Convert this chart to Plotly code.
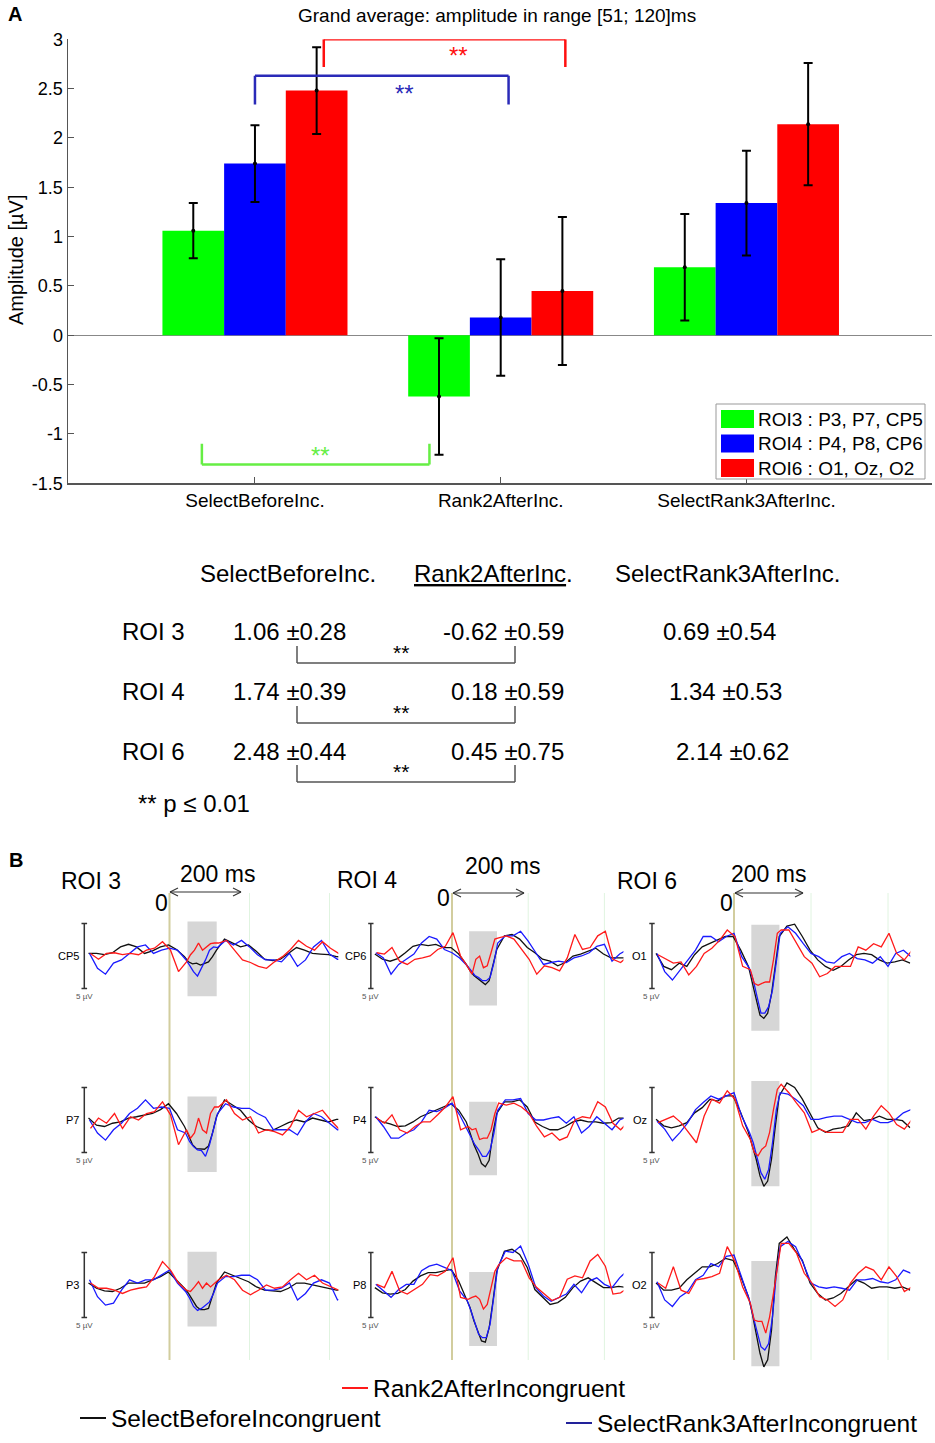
import plotly.graph_objects as go

W, H = 935, 1443
def X(px): return px / W
def Y(py): return 1 - py / H

FONT = "Liberation Sans, Arial, sans-serif"

# ---------------- Panel A data ----------------
CATS = ["SelectBeforeInc.", "Rank2AfterInc.", "SelectRank3AfterInc."]
ROI_NAMES = ["ROI3 : P3, P7, CP5", "ROI4 : P4, P8, CP6", "ROI6 : O1, Oz, O2"]
ROI3_MEAN = [1.06, -0.62, 0.69]
ROI3_SEM = [0.28, 0.59, 0.54]
ROI4_MEAN = [1.74, 0.18, 1.34]
ROI4_SEM = [0.39, 0.59, 0.53]
ROI6_MEAN = [2.48, 0.45, 2.14]
ROI6_SEM = [0.44, 0.75, 0.62]
YTICKS = [-1.5, -1, -0.5, 0, 0.5, 1, 1.5, 2, 2.5, 3]
YTICK_TEXT = ["-1.5", "-1", "-0.5", "0", "0.5", "1", "1.5", "2", "2.5", "3"]
TABLE_ROWS = ["ROI 3", "ROI 4", "ROI 6"]

# ---------------- Panel B data (ERP waveforms, µV, positive plotted down) ----------------
T = [-200, -180, -160, -140, -120, -100, -80, -60, -40, -20, 0, 20, 40, 50, 60, 70, 80, 90,
     100, 110, 120, 140, 160, 180, 200, 220, 240, 260, 280, 300, 320, 340, 360, 380, 400, 420, 440, 460]
WINDOW_MS = [45, 118]

CP5_black = [-0.2,-0.2,-0.1,-0.25,-0.7,-0.9,-0.7,-0.2,-0.4,-0.7,-0.85,-0.5,0.05,0.45,0.6,0.55,0.7,0.6,0.45,0.05,-0.45,-1.3,-1.0,-0.7,-0.85,-0.35,0.25,0.35,0.25,-0.2,-0.65,-0.45,-0.2,-0.15,-0.1,0.05,0.1,0.1]
CP5_red = [-0.2,0.25,-0.2,-0.25,-0.1,-0.2,-0.1,-0.45,-0.6,-1.1,-0.45,1.2,0.45,-0.1,-0.45,-1.0,-0.45,-0.7,-0.95,-1.0,-1.0,-1.2,-0.45,0.3,0.5,0.8,0.95,0.45,0.05,-0.5,-1.2,-0.75,-0.45,-1.1,-0.6,-0.2,-0.15,-0.2]
CP5_blue = [-0.2,0.95,1.4,0.55,0.3,-0.2,-0.7,-0.85,-0.2,-0.45,-0.6,-0.45,0.25,0.7,1.2,1.55,0.95,0.3,-0.45,-0.7,-0.65,-1.2,-0.85,-1.2,-0.7,-0.1,0.3,0.3,0.45,-0.2,0.8,0.3,-0.7,-1.2,-0.15,0.25,0.3,0.3]

P7_black = [-0.15,0.4,0.5,0.25,0.15,-0.15,-0.25,-0.4,-0.5,-0.8,-1.25,-0.5,0.5,1.15,1.9,2.2,2.25,2.25,2.0,1.0,-0.25,-1.55,-1.15,-0.75,0.0,0.5,0.75,0.8,0.5,0.2,0.0,0.15,-0.15,0.0,0.15,-0.05,0.0,0.0]
P7_red = [0.65,-0.15,0.25,-0.5,0.65,-0.25,0.0,-0.5,-0.65,-1.4,-0.4,1.9,0.75,1.4,1.0,-0.15,0.75,1.0,-0.5,-1.0,-1.0,-1.55,-0.5,0.0,-0.25,1.0,0.75,0.9,1.15,0.5,-0.75,-0.25,-0.5,-0.75,0.0,0.65,0.5,0.5]
P7_blue = [0.0,1.0,1.55,0.75,0.25,-0.5,-0.9,-1.55,-0.9,-1.0,-0.9,0.75,1.0,1.65,2.05,2.3,2.35,2.8,1.9,0.75,-0.5,-1.25,-1.0,-0.9,-0.9,-0.5,-0.2,0.75,0.75,0.75,1.15,0.15,-0.5,-0.25,0.25,0.75,0.75,0.75]

P3_black = [-0.15,0.25,0.45,0.5,0.25,-0.15,-0.15,-0.15,-0.4,-0.65,-1.0,-0.4,0.25,0.65,1.15,1.65,1.9,1.9,1.8,0.9,-0.15,-1.0,-0.75,-0.5,-0.25,0.15,0.4,0.45,0.5,0.25,-0.15,-0.15,0.0,0.15,0.25,0.4,0.4,0.4]
P3_red = [-0.15,0.25,0.25,0.4,0.65,0.4,0.25,0.15,-0.65,-1.8,-1.15,-0.15,0.4,0.5,0.15,-0.25,0.25,-0.15,0.15,-0.15,-0.4,-0.75,-0.4,0.4,0.75,0.4,0.0,0.25,0.15,-0.4,-0.9,-0.4,-0.75,-0.15,0.15,0.4,0.4,0.4]
P3_blue = [-0.4,0.9,1.55,1.4,0.4,-0.4,-0.15,-0.4,-0.4,-0.75,-1.15,-0.15,0.5,1.0,1.65,1.95,1.8,1.55,1.3,0.65,-0.15,-0.65,-0.65,-0.75,-0.75,-0.4,0.4,0.4,0.25,-0.15,1.15,0.65,-0.15,-0.4,-0.15,1.15,0.9,0.9]

CP6_black = [-0.15,0.25,0.4,0.2,-0.25,-0.75,-0.9,-0.8,-0.9,-0.65,-0.65,-0.15,0.65,1.15,1.5,1.75,2.0,2.2,1.9,0.75,-0.5,-1.55,-1.65,-1.3,-0.65,-0.25,0.25,0.4,0.75,0.5,0.0,-0.15,-0.4,-0.6,-0.15,0.15,0.15,0.15]
CP6_red = [-0.25,-0.15,-0.65,0.4,0.65,0.25,0.15,0.0,-0.5,-0.75,-1.8,0.0,0.9,1.4,0.25,0.0,0.9,0.75,-0.25,-1.3,-1.4,-1.55,-1.3,-0.5,0.25,1.4,0.75,0.9,1.15,0.15,-1.65,-0.5,-0.65,-1.55,-1.9,0.25,0.5,0.0]
CP6_blue = [-0.25,0.15,1.4,0.65,0.25,-0.15,-1.0,-1.5,-1.3,-0.5,-0.25,0.15,0.75,1.15,1.5,1.65,1.9,1.9,1.65,0.5,-1.0,-1.55,-1.55,-1.9,-1.15,-0.25,0.65,0.5,0.4,0.5,0.15,0.0,-0.25,-0.75,-0.9,0.4,-0.15,-0.5]

P4_black = [-0.25,0.15,0.3,0.5,0.45,0.15,-0.25,-0.5,-0.75,-1.0,-1.25,-0.75,0.15,1.0,1.9,2.55,3.35,3.6,3.1,1.0,-0.5,-1.4,-1.4,-1.55,-1.0,0.15,0.5,0.75,0.75,0.5,0.15,0.0,0.15,0.15,0.25,0.2,-0.15,-0.15]
P4_red = [-0.15,0.25,-0.4,0.75,1.0,0.5,0.15,0.15,-0.4,-1.0,-1.8,0.75,0.5,0.75,0.65,1.5,1.4,1.4,0.75,-0.5,-1.3,-1.15,-1.3,-1.0,-0.5,0.5,1.3,1.0,1.55,1.3,0.0,-0.25,-0.15,-1.4,-1.0,0.25,0.75,0.15]
P4_blue = [-0.25,0.5,1.4,1.4,1.0,0.75,0.15,-0.75,-0.65,-0.9,-1.3,-0.4,0.75,1.3,1.9,2.3,2.8,2.8,2.3,1.0,-0.75,-1.55,-1.55,-1.65,-0.5,0.0,0.0,-0.15,-0.25,0.25,-0.25,1.0,0.5,-0.25,0.25,0.75,0.0,-0.25]

P8_black = [0.2,0.6,0.7,0.65,0.35,-0.3,-0.7,-0.95,-0.95,-1.1,-1.2,-0.3,1.1,1.75,2.75,3.5,4.3,4.4,3.3,1.25,-1.05,-2.6,-2.75,-2.35,-1.35,0.35,0.95,1.5,1.35,0.95,0.2,-0.3,-0.55,-0.2,0.2,0.2,0.1,0.2]
P8_red = [-0.05,0.2,-1.05,0.45,0.7,0.35,-0.05,-0.8,-0.7,-1.05,-2.1,0.95,1.1,0.95,0.85,1.1,1.85,1.5,0.2,-1.05,-1.55,-2.1,-1.85,-1.85,-0.55,0.2,0.7,1.2,0.95,-0.45,-0.7,-0.55,-1.85,-2.35,-1.45,0.7,0.6,0.2]
P8_blue = [-0.05,0.45,0.95,0.35,-0.05,-0.05,-1.1,-1.45,-1.6,-1.35,-1.1,0.45,1.2,2.0,3.0,3.8,4.05,4.05,3.0,0.95,-1.35,-2.6,-2.5,-3.0,-1.6,0.2,0.85,1.25,0.95,0.7,-0.05,0.6,-0.3,-0.55,-0.05,0.2,-0.55,-1.1]

O1_black = [-0.2,0.8,1.05,0.55,0.8,-0.1,-0.7,-0.95,-1.2,-1.5,-1.5,-0.45,0.8,2.1,3.4,4.55,4.8,4.4,2.9,0.55,-1.5,-2.3,-2.45,-1.5,-0.45,0.3,0.8,1.1,0.8,0.3,-0.1,-0.2,-0.1,0.3,0.55,0.45,0.3,0.55]
O1_red = [-0.1,0.2,0.55,0.45,1.45,0.8,-0.2,-0.6,-1.2,-2.0,-1.5,0.8,1.05,2.1,2.25,2.1,2.0,2.0,0.3,-1.75,-2.0,-2.0,-0.95,0.05,0.55,1.6,1.35,0.8,0.8,0.8,-0.7,-0.45,-0.95,-0.7,-1.75,-0.2,0.3,-0.45]
O1_blue = [-0.2,1.2,1.85,1.1,0.3,-0.45,-1.5,-1.5,-1.1,-1.5,-1.75,0.05,0.95,1.85,3.15,4.4,4.4,3.9,2.6,0.3,-1.75,-2.25,-1.75,-0.95,-0.2,0.05,0.45,0.55,0.05,-0.2,0.2,0.3,0.55,0.05,0.8,-0.2,-0.45,0.05]

Oz_black = [-0.05,0.45,0.6,0.45,0.2,-0.55,-0.95,-1.6,-1.45,-1.85,-1.85,-0.55,0.95,2.0,3.0,4.3,5.1,4.7,3.0,0.45,-1.85,-2.85,-2.5,-1.6,-0.55,0.6,0.95,0.7,0.6,0.45,-0.55,0.05,-0.05,-0.3,-0.05,-0.05,0.05,0.6]
Oz_red = [0.2,-0.05,-0.3,0.2,0.95,1.75,-0.3,-1.6,-1.3,-2.25,-1.6,0.45,1.5,2.5,2.75,2.25,2.0,0.95,-0.8,-2.35,-2.75,-2.1,-1.3,-0.55,0.95,0.7,0.95,0.95,0.95,-0.05,-0.05,0.7,-0.3,-1.1,-0.55,0.35,0.7,-0.05]
Oz_blue = [0.1,0.7,1.6,0.95,0.2,-0.8,-1.35,-1.85,-1.6,-1.85,-2.1,-0.3,0.95,1.75,3.0,4.05,4.55,3.8,1.75,-0.8,-2.1,-2.0,-1.6,-1.1,-0.05,-0.05,-0.2,-0.3,-0.3,-0.05,0.2,0.2,-0.05,0.2,0.2,-0.05,-0.55,-0.8]

O2_black = [-0.15,0.4,0.4,0.25,-0.4,-0.9,-1.4,-1.4,-1.65,-2.05,-1.9,-0.65,0.9,2.2,3.7,5.25,6.3,5.75,3.45,-0.65,-3.2,-3.7,-2.7,-1.9,-0.15,0.65,1.15,1.0,0.65,0.15,-0.4,-0.15,0.25,0.15,0.15,0.25,0.15,0.4]
O2_red = [-0.15,0.25,-1.4,0.4,0.65,-0.4,-0.5,-0.65,-0.9,-2.95,-1.8,0.15,1.4,2.7,2.8,2.8,3.7,2.45,0.65,-1.4,-3.2,-3.2,-2.45,-0.9,-0.15,0.9,1.15,1.65,1.15,-0.15,-0.9,-1.4,-1.15,-0.4,-1.4,-0.65,0.5,0.15]
O2_blue = [-0.25,1.15,1.65,0.9,0.5,-0.4,-0.75,-1.65,-1.4,-2.2,-2.3,-0.65,1.15,2.45,3.7,4.75,5.0,4.5,2.45,-0.9,-2.95,-3.35,-2.95,-1.65,-0.15,0.15,0.25,0.15,0.25,0.4,-0.4,-0.4,-0.5,-0.25,-0.15,-0.4,-1.15,-0.9]

CHANNELS = [["CP5", "CP6", "O1"], ["P7", "P4", "Oz"], ["P3", "P8", "O2"]]
ROI_LABELS = ["ROI 3", "ROI 4", "ROI 6"]
WAVES = {
    "CP5": (CP5_black, CP5_blue, CP5_red), "P7": (P7_black, P7_blue, P7_red), "P3": (P3_black, P3_blue, P3_red),
    "CP6": (CP6_black, CP6_blue, CP6_red), "P4": (P4_black, P4_blue, P4_red), "P8": (P8_black, P8_blue, P8_red),
    "O1": (O1_black, O1_blue, O1_red), "Oz": (Oz_black, Oz_blue, Oz_red), "O2": (O2_black, O2_blue, O2_red),
}
BOX_LO = {"CP5": -2.65, "P7": -1.8, "P3": -2.55, "CP6": -1.9, "P4": -1.4, "P8": -1.0, "O1": -2.4, "Oz": -3.0, "O2": -1.85}
BOX_HI = {"CP5": 3.1, "P7": 4.0, "P3": 3.2, "CP6": 3.8, "P4": 4.25, "P8": 4.7, "O1": 5.75, "Oz": 5.1, "O2": 6.25}
SCALE_UV = 5
COND_NAMES = ["SelectBeforeIncongruent", "SelectRank3AfterIncongruent", "Rank2AfterIncongruent"]

for name, w in WAVES.items():
    for arr in w:
        assert len(arr) == len(T), name

fig = go.Figure()
shapes = []
annos = []

def ann(**kw):
    kw.setdefault("showarrow", False)
    kw.setdefault("xanchor", "center")
    kw.setdefault("yanchor", "middle")
    kw.setdefault("xref", "paper")
    kw.setdefault("yref", "paper")
    annos.append(kw)

def pline(a, b, c, d, color, width):
    shapes.append(dict(type="line", xref="paper", yref="paper", x0=X(a), y0=Y(b), x1=X(c), y1=Y(d),
                       line=dict(color=color, width=width)))

# ================= Panel A =================
BAR_COLORS = ["#00ff00", "#0000ff", "#ff0000"]
for nm, mean, sem, col in zip(ROI_NAMES, [ROI3_MEAN, ROI4_MEAN, ROI6_MEAN],
                              [ROI3_SEM, ROI4_SEM, ROI6_SEM], BAR_COLORS):
    fig.add_bar(x=CATS, y=mean, marker=dict(color=col, line=dict(width=0)), offsetgroup=nm,
                error_y=dict(type="data", array=sem, color="black", thickness=2, width=4.5),
                xaxis="x", yaxis="y", showlegend=False, hoverinfo="skip")
    fig.add_scatter(x=CATS, y=mean, mode="markers", marker=dict(color="black", size=4),
                    offsetgroup=nm, xaxis="x", yaxis="y", showlegend=False, hoverinfo="skip")

def bracket(x0, x1, yleg, ybar, color):
    for (a, b, c, d) in [(x0, yleg, x0, ybar), (x0, ybar, x1, ybar), (x1, ybar, x1, yleg)]:
        shapes.append(dict(type="line", xref="x", yref="y", x0=a, y0=b, x1=c, y1=d,
                           line=dict(color=color, width=2.5), layer="above"))

bracket(0.28, 1.263, 2.72, 3.0, "#ff1010")
bracket(0.0, 1.032, 2.34, 2.63, "#2a2ab8")
bracket(-0.216, 0.71, -1.10, -1.31, "#66ee44")
for xs, ys, col in [(0.829, 2.84, "#ff1010"), (0.609, 2.45, "#2a2ab8"), (0.267, -1.22, "#66ee44")]:
    ann(x=xs, y=ys, xref="x", yref="y", text="**", font=dict(family=FONT, size=24, color=col))

# custom legend box
shapes.append(dict(type="rect", xref="paper", yref="paper", x0=X(716), x1=X(925), y0=Y(479), y1=Y(404),
                   line=dict(color="#999999", width=1), fillcolor="white", layer="above"))
for i, (nm, col) in enumerate(zip(ROI_NAMES, BAR_COLORS)):
    yc = 419 + 24.5 * i
    shapes.append(dict(type="rect", xref="paper", yref="paper", x0=X(721), x1=X(754),
                       y0=Y(yc + 9), y1=Y(yc - 9), line=dict(width=0), fillcolor=col, layer="above"))
    ann(x=X(756), y=Y(yc), text=nm, xanchor="left", font=dict(family=FONT, size=19, color="black"))

ann(x=X(497), y=Y(16), text="Grand average: amplitude in range [51; 120]ms",
    font=dict(family=FONT, size=19, color="black"))
ann(x=X(16), y=Y(260), text="Amplitude [µV]", textangle=-90, font=dict(family=FONT, size=20, color="black"))
ann(x=X(15), y=Y(14), text="<b>A</b>", font=dict(family=FONT, size=20, color="black"))
ann(x=X(16), y=Y(860), text="<b>B</b>", font=dict(family=FONT, size=20, color="black"))

# ================= Table =================
TF = dict(family=FONT, size=24, color="black")
HEAD_X = [287.5, 493.5, 727]
for i, c in enumerate(CATS):
    txt = "<u>Rank2AfterInc</u>." if i == 1 else c
    ann(x=X(HEAD_X[i]), y=Y(573), text=txt, font=TF)
ROW_Y = [632, 692, 751]
COLC_X = [719, 725.5, 732.5]
for r, (lab, mean, sem) in enumerate(zip(TABLE_ROWS, [ROI3_MEAN, ROI4_MEAN, ROI6_MEAN],
                                         [ROI3_SEM, ROI4_SEM, ROI6_SEM])):
    yy = Y(ROW_Y[r])
    ann(x=X(120), y=yy, text=lab, xanchor="left", font=TF)
    ann(x=X(231), y=yy, text=f"{mean[0]:.2f} ±{sem[0]:.2f}", xanchor="left", font=TF)
    ann(x=X(566), y=yy, text=f"{mean[1]:.2f} ±{sem[1]:.2f}", xanchor="right", font=TF)
    ann(x=X(COLC_X[r]), y=yy, text=f"{mean[2]:.2f} ±{sem[2]:.2f}", font=TF)
    ytop = ROW_Y[r] + 14
    ybot = ROW_Y[r] + 31
    pline(297, ytop, 297, ybot, "#555555", 1.5)
    pline(297, ybot, 515, ybot, "#555555", 1.5)
    pline(515, ybot, 515, ytop, "#555555", 1.5)
    ann(x=X(401), y=Y(ROW_Y[r] + 20), text="**", font=dict(family=FONT, size=21, color="black"))
ann(x=X(136), y=Y(803), text="** p ≤ 0.01", xanchor="left", font=TF)

# ================= Panel B =================
COL_ZERO = [169.5, 452, 734]
COL_SCALE = [0.4, 0.381, 0.385]
COL_TEND = [422, 450, 458]
ROW_BASE = [956, 1120, 1285]
PX_PER_UV = 13
T_START = -225
YR = (-4.5, 7)
BAR_T = -213
LINE_COLORS = ["#111111", "#1a1aff", "#ff1a1a"]

layout_axes = {}
for r in range(3):
    for c in range(3):
        k = 2 + r * 3 + c
        ch = CHANNELS[r][c]
        xa, ya = f"x{k}", f"y{k}"
        x0 = COL_ZERO[c] + T_START * COL_SCALE[c]
        x1 = COL_ZERO[c] + COL_TEND[c] * COL_SCALE[c]
        ytop = ROW_BASE[r] + YR[0] * PX_PER_UV
        ybot = ROW_BASE[r] + YR[1] * PX_PER_UV
        layout_axes[f"xaxis{k}"] = dict(domain=[X(x0), X(x1)], range=[T_START, COL_TEND[c]],
                                        visible=False, anchor=ya, fixedrange=True, automargin=False)
        layout_axes[f"yaxis{k}"] = dict(domain=[Y(ybot), Y(ytop)], range=[YR[1], YR[0]],
                                        visible=False, anchor=xa, fixedrange=True, automargin=False)
        for wave, col in zip(WAVES[ch], LINE_COLORS):
            fig.add_scatter(x=T, y=wave, mode="lines", line=dict(color=col, width=1.3),
                            xaxis=xa, yaxis=ya, showlegend=False, hoverinfo="skip")
        shapes.append(dict(type="rect", xref=xa, yref=ya, x0=WINDOW_MS[0], x1=WINDOW_MS[1],
                           y0=BOX_LO[ch], y1=BOX_HI[ch], fillcolor="#d6d6d6", line=dict(width=0),
                           layer="below"))
        half = SCALE_UV / 2
        shapes.append(dict(type="line", xref=xa, yref=ya, x0=BAR_T, x1=BAR_T, y0=-half, y1=half,
                           line=dict(color="#333333", width=1.5)))
        for yy in (-half, half):
            shapes.append(dict(type="line", xref=xa, yref=ya, x0=BAR_T - 7, x1=BAR_T + 7, y0=yy, y1=yy,
                               line=dict(color="#333333", width=1.5)))
        ann(x=BAR_T, y=0, xref=xa, yref=ya, text=ch, xanchor="right", xshift=-3,
            font=dict(family=FONT, size=11, color="black"))
        ann(x=BAR_T, y=half, xref=xa, yref=ya, text=f"{SCALE_UV} µV", yanchor="top", yshift=-1,
            font=dict(family=FONT, size=8, color="#555555"))

for c in range(3):
    xa = f"x{2 + c}"
    for tm, col, wd in [(0, "#d2cd9e", 2), (200, "#e0f4e0", 1), (400, "#e0f4e0", 1)]:
        shapes.append(dict(type="line", xref=xa, yref="paper", x0=tm, x1=tm, y0=Y(1360), y1=Y(893),
                           line=dict(color=col, width=wd), layer="below"))

HDR = [
    dict(roi=(91, 881), ms=(217, 874), arrow=(170, 241, 892), zero=(161, 903)),
    dict(roi=(367, 880), ms=(502, 866), arrow=(453, 524, 893), zero=(443.5, 898)),
    dict(roi=(647, 881), ms=(768, 874), arrow=(735, 803, 893), zero=(726.5, 903)),
]
BF = dict(family=FONT, size=23, color="black")
for c, h in enumerate(HDR):
    ann(x=X(h["roi"][0]), y=Y(h["roi"][1]), text=ROI_LABELS[c], font=BF)
    ann(x=X(h["ms"][0]), y=Y(h["ms"][1]), text="200 ms", font=BF)
    ann(x=X(h["zero"][0]), y=Y(h["zero"][1]), text="0", font=BF)
    ax0, ax1, ay = h["arrow"]
    for (a, b, c2, d) in [(ax0, ay, ax1, ay), (ax0, ay, ax0 + 8, ay - 4), (ax0, ay, ax0 + 8, ay + 4),
                          (ax1, ay, ax1 - 8, ay - 4), (ax1, ay, ax1 - 8, ay + 4)]:
        pline(a, b, c2, d, "#333333", 1.2)

LF = dict(family=FONT, size=24.5, color="black")
LEG = [(COND_NAMES[2], "#ff1a1a", 342, 1388), (COND_NAMES[0], "#111111", 80, 1418),
       (COND_NAMES[1], "#22229a", 566, 1423)]
for nm, col, lx, ly in LEG:
    pline(lx, ly, lx + 26, ly, col, 2)
    ann(x=X(lx + 29), y=Y(ly), text=nm, xanchor="left", font=LF)

fig.update_layout(
    width=W, height=H, margin=dict(l=0, r=0, t=0, b=0, pad=0), autosize=False,
    paper_bgcolor="white", plot_bgcolor="white", showlegend=False,
    barmode="group", bargap=0.247, bargroupgap=0,
    scattermode="group", scattergap=0.247,
    font=dict(family=FONT, color="black"),
    xaxis=dict(domain=[X(67.7), X(932)], range=[-0.762, 2.755], type="category",
               showline=True, linecolor="#555555", linewidth=1.2, ticks="inside", ticklen=6,
               tickcolor="#555555", showgrid=False, zeroline=False, anchor="y", automargin=False,
               tickfont=dict(family=FONT, size=19, color="black"), fixedrange=True),
    yaxis=dict(domain=[Y(483.3), Y(39.3)], range=[-1.5, 3], tickvals=YTICKS, ticktext=YTICK_TEXT,
               showline=True, linecolor="#555555", linewidth=1.2, ticks="inside", ticklen=6,
               tickcolor="#555555", showgrid=False, zeroline=True, zerolinecolor="#888888",
               zerolinewidth=1.5, anchor="x", automargin=False,
               tickfont=dict(family=FONT, size=18, color="black"), fixedrange=True),
    shapes=shapes, annotations=annos,
    **layout_axes,
)

fig.write_html("out.html", config={"displayModeBar": False, "staticPlot": True},
               post_script="document.body.style.margin='0px';")
